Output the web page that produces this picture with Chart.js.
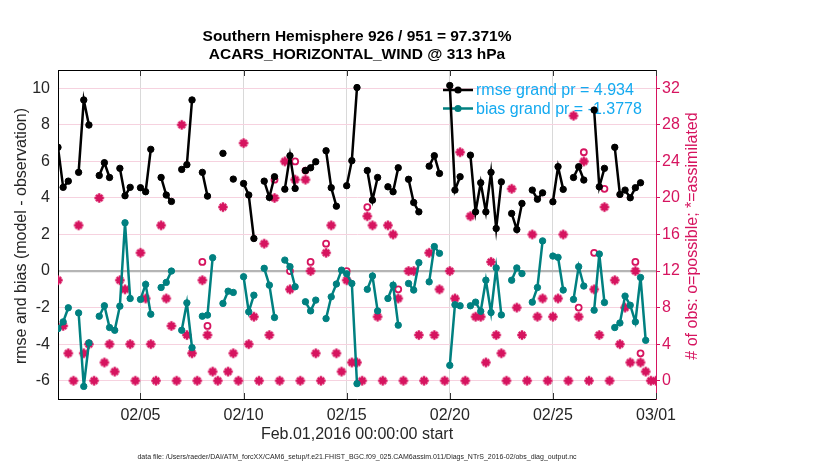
<!DOCTYPE html>
<html>
<head>
<meta charset="utf-8">
<script src="https://cdn.jsdelivr.net/npm/chart.js@4.4.1/dist/chart.umd.min.js"></script>
<style>
  html, body { margin: 0; padding: 0; background: #fff; }
  #wrap { width: 830px; height: 470px; }
</style>
</head>
<body>
<div id="wrap"><canvas id="obsChart" width="830" height="470"></canvas></div>
<script>
// x positions are days after Feb.01 00:00, one bin every 6 hours
const xTickDays = [4, 9, 14, 19, 24, 29];
const xTickLabels = ['02/05', '02/10', '02/15', '02/20', '02/25', '03/01'];
const leftTicks = [-6, -4, -2, 0, 2, 4, 6, 8, 10];
const rightTicks = [0, 4, 8, 12, 16, 20, 24, 28, 32];

const rmse = [
  6.77, 4.58, 4.92, null, 5.40, 9.36, 7.99, null, 5.23, 5.93,
  5.12, null, 5.62, 4.12, 4.58, null, 4.56, 4.34, 6.66, null,
  5.12, 4.16, 3.81, null, 5.56, 5.82, 9.36, null, 5.40, 4.10,
  null, null, 6.44, null, 5.03, null, 4.79, 4.16, 1.78, null,
  4.92, 4.03, 5.16, null, 4.48, 6.31, 4.52, null, 5.50, 5.65,
  5.98, null, 6.58, 4.56, 3.55, null, 4.67, 6.04, 10.04, null,
  5.50, 3.88, 5.12, null, 4.61, 4.34, 5.65, null, 5.02, 3.75,
  3.24, null, 5.74, 6.31, 5.34, null, 10.15, 4.43, 5.16, null,
  6.34, 3.24, 4.83, 3.24, 5.40, 2.33, 4.88, null, 3.15, 2.27,
  3.70, null, 4.43, 3.93, 4.28, null, 3.79, 5.71, 4.47, null,
  5.12, 5.71, 4.98, null, 8.81, 4.61, 5.62, null, 6.77, 4.19,
  4.43, 4.01, 4.56, 4.83, null, null, null
];
const bias = [
  -3.15, -2.78, -2.01, null, -2.29, -6.31, -3.93, null, -2.47, -1.90,
  -3.09, -3.24, -1.92, 2.64, -1.50, null, -1.55, -0.73, -2.36, null,
  -0.90, -0.62, 0.00, null, -3.24, -1.74, -4.19, null, -2.47, -2.41,
  0.73, null, -1.77, -1.10, -1.17, null, -0.31, -2.23, -1.32, null,
  0.15, -0.77, -2.54, null, 0.60, 0.24, -0.86, null, -1.68, -2.18,
  -1.59, null, -2.60, -1.41, -0.71, 0.05, -0.15, -0.68, -6.16, null,
  -1.00, -0.27, -2.18, null, -1.50, -0.77, -2.96, null, -0.68, -1.04,
  0.46, null, -0.59, 1.34, 0.97, null, -5.16, -1.84, -1.90, null,
  -1.90, -1.70, -2.20, -0.50, -2.27, 0.17, -2.40, null, -0.50, 0.17,
  -0.14, null, -1.70, -0.90, 1.65, null, 0.82, 0.75, -1.04, null,
  -1.55, 0.24, -0.82, null, -2.14, 0.93, -1.72, null, -3.09, -2.84,
  -1.37, -1.87, -2.78, -0.35, -3.79, null, null
];
const assimilated = [
  11, 6, 3, 0, 17, 3, 4, 0, 20, 2,
  4, 1, 11, 10, 4, 0, 14, 9, 4, 0,
  17, 9, 6, 0, 28, 5, 3, 0, 11, 5,
  1, 0, 19, 1, 3, 0, 26, 4, 7, 0,
  15, 5, 20, 0, 24, 10, 22, 0, 22, 12,
  3, 0, 14, 17, 3, 1, 11, 2, 2, 0,
  18, 17, 7, 0, 17, 16, 9, 0, 12, 12,
  5, 0, 14, 5, 10, 0, 12, 9, 25, 0,
  18, 7, 7, 2, 13, 5, 3, 0, 21, 8,
  5, 0, 16, 7, 9, 0, 7, 9, 16, 0,
  29, 7, 24, 0, 10, 5, 19, 0, 11, 4,
  8, 2, 12, 2, 1, 0, 0
];
const possible = [
  11, 6, 3, 0, 17, 3, 4, 0, 20, 2,
  4, 1, 11, 10, 4, 0, 14, 9, 4, 0,
  17, 9, 6, 0, 28, 5, 3, 0, 13, 6,
  1, 0, 19, 1, 3, 0, 26, 4, 7, 0,
  15, 5, 22, 0, 24, 12, 24, 0, 23, 13,
  3, 0, 15, 17, 3, 1, 12, 2, 2, 0,
  19, 17, 7, 0, 17, 16, 10, 0, 12, 12,
  5, 0, 14, 5, 10, 0, 12, 9, 25, 0,
  18, 7, 7, 2, 13, 5, 3, 0, 21, 8,
  5, 0, 16, 7, 9, 0, 7, 9, 16, 0,
  29, 8, 25, 0, 14, 5, 21, 0, 11, 4,
  8, 2, 13, 3, 1, 0, 0
];

const MAGENTA = '#d6145f';
const TEAL = '#008080';
const LEGEND_BLUE = '#14aaf0';
const TEXT = '#262626';
const FONT = '"Liberation Sans", Arial, Helvetica, sans-serif';

const days = rmse.map((_, i) => i * 0.25);
const toPoints = arr => arr.map((v, i) => ({ x: days[i], y: v }));
// a circle only shows where it is not hidden under the asterisk
const possibleOnly = possible.map((p, i) => (p !== assimilated[i] ? p : null));

// thick asterisk marker, it looks like a solid diamond with tips
function makeAsterisk() {
  const c = document.createElement('canvas');
  c.width = 12;
  c.height = 12;
  const g = c.getContext('2d');
  g.strokeStyle = MAGENTA;
  g.fillStyle = MAGENTA;
  g.lineWidth = 2.4;
  g.translate(6, 6);
  g.beginPath();
  g.moveTo(-4.7, 0); g.lineTo(4.7, 0);
  g.moveTo(0, -4.7); g.lineTo(0, 4.7);
  g.moveTo(-3.2, -3.2); g.lineTo(3.2, 3.2);
  g.moveTo(-3.2, 3.2); g.lineTo(3.2, -3.2);
  g.stroke();
  g.beginPath();
  g.moveTo(0, -4.2); g.lineTo(4.2, 0); g.lineTo(0, 4.2); g.lineTo(-4.2, 0);
  g.closePath();
  g.fill();
  return c;
}
const asterisk = makeAsterisk();

const decor = {
  id: 'decor',
  beforeDatasetsDraw(chart) {
    const { ctx } = chart;
    const rows = [
      { color: '#000', text: 'rmse grand pr = 4.934', y: 90 },
      { color: TEAL, text: 'bias grand pr = -1.3778', y: 108.5 }
    ];
    ctx.save();
    rows.forEach(r => {
      ctx.strokeStyle = r.color;
      ctx.lineWidth = 2.5;
      ctx.beginPath();
      ctx.moveTo(443, r.y);
      ctx.lineTo(473, r.y);
      ctx.stroke();
      ctx.fillStyle = r.color;
      ctx.beginPath();
      ctx.arc(458, r.y, 3.6, 0, Math.PI * 2);
      ctx.fill();
      ctx.fillStyle = LEGEND_BLUE;
      ctx.font = '16px ' + FONT;
      ctx.textAlign = 'left';
      ctx.textBaseline = 'middle';
      ctx.fillText(r.text, 476, r.y + 1);
    });
    ctx.restore();
  },
  afterDraw(chart) {
    const { ctx, chartArea: a, scales } = chart;
    ctx.save();
    // top of the frame
    ctx.strokeStyle = '#000';
    ctx.lineWidth = 1;
    ctx.beginPath();
    ctx.moveTo(a.left, a.top + 0.5);
    ctx.lineTo(a.right, a.top + 0.5);
    ctx.stroke();
    // inward ticks on bottom and top
    ctx.strokeStyle = '#333';
    xTickDays.forEach(d => {
      const px = Math.round(scales.x.getPixelForValue(d)) + 0.5;
      ctx.beginPath();
      ctx.moveTo(px, a.bottom);
      ctx.lineTo(px, a.bottom - 6);
      ctx.moveTo(px, a.top);
      ctx.lineTo(px, a.top + 6);
      ctx.stroke();
    });

    ctx.textAlign = 'center';
    ctx.textBaseline = 'middle';
    ctx.fillStyle = '#000';
    ctx.font = 'bold 15.5px ' + FONT;
    ctx.fillText('Southern Hemisphere 926 / 951 = 97.371%', 357, 37);
    ctx.fillText('ACARS_HORIZONTAL_WIND @ 313 hPa', 357, 55);

    ctx.fillStyle = TEXT;
    ctx.font = '16px ' + FONT;
    ctx.fillText('Feb.01,2016 00:00:00 start', 357, 435);
    ctx.font = '7px ' + FONT;
    ctx.fillText('data file: /Users/raeder/DAI/ATM_forcXX/CAM6_setup/f.e21.FHIST_BGC.f09_025.CAM6assim.011/Diags_NTrS_2016-02/obs_diag_output.nc', 357, 457);

    ctx.font = '16px ' + FONT;
    ctx.save();
    ctx.translate(22, 236);
    ctx.rotate(-Math.PI / 2);
    ctx.fillText('rmse and bias (model - observation)', 0, 0);
    ctx.restore();
    ctx.save();
    ctx.fillStyle = MAGENTA;
    ctx.translate(693, 236);
    ctx.rotate(-Math.PI / 2);
    ctx.fillText('# of obs: o=possible; *=assimilated', 0, 0);
    ctx.restore();
    ctx.restore();
  }
};

new Chart(document.getElementById('obsChart'), {
  type: 'line',
  data: {
    datasets: [
      {
        label: 'possible',
        data: toPoints(possibleOnly),
        yAxisID: 'y1',
        showLine: false,
        pointStyle: 'circle',
        pointRadius: 3,
        pointBorderWidth: 1.8,
        pointBorderColor: MAGENTA,
        pointBackgroundColor: '#fff',
        order: 4
      },
      {
        label: 'assimilated',
        data: toPoints(assimilated),
        yAxisID: 'y1',
        showLine: false,
        pointStyle: asterisk,
        pointRadius: 5,
        order: 3
      },
      {
        label: 'rmse',
        data: toPoints(rmse),
        yAxisID: 'y',
        borderColor: '#000',
        borderWidth: 2.5,
        pointRadius: 3.2,
        pointBorderWidth: 1,
        pointBackgroundColor: '#000',
        pointBorderColor: '#000',
        spanGaps: false,
        order: 2
      },
      {
        label: 'bias',
        data: toPoints(bias),
        yAxisID: 'y',
        borderColor: TEAL,
        borderWidth: 2.5,
        pointRadius: 3.2,
        pointBorderWidth: 1,
        pointBackgroundColor: TEAL,
        pointBorderColor: TEAL,
        spanGaps: false,
        order: 1
      }
    ]
  },
  options: {
    responsive: false,
    animation: false,
    layout: { padding: { top: 70, left: 0, right: 0, bottom: 0 } },
    plugins: {
      legend: { display: false },
      tooltip: { enabled: false },
      title: { display: false }
    },
    scales: {
      x: {
        type: 'linear',
        min: 0,
        max: 29,
        afterBuildTicks: s => { s.ticks = xTickDays.map(v => ({ value: v })); },
        afterFit: s => { s.height = 71; },
        grid: { color: '#d9d9d9', drawTicks: false },
        border: { color: '#000', width: 1 },
        ticks: {
          autoSkip: false,
          maxRotation: 0,
          padding: 7,
          color: TEXT,
          font: { size: 16, family: FONT },
          callback: v => xTickLabels[xTickDays.indexOf(v)]
        }
      },
      y: {
        position: 'left',
        min: -7,
        max: 11,
        afterBuildTicks: s => { s.ticks = leftTicks.map(v => ({ value: v })); },
        afterFit: s => { s.width = 58; },
        grid: {
          drawTicks: false,
          color: c => (c.tick && c.tick.value === 0 ? '#b5b5b5' : '#f6d2df'),
          lineWidth: c => (c.tick && c.tick.value === 0 ? 2.2 : 1)
        },
        border: { color: '#000', width: 1 },
        ticks: { padding: 8, color: TEXT, font: { size: 16, family: FONT } }
      },
      y1: {
        position: 'right',
        min: -2,
        max: 34,
        afterBuildTicks: s => { s.ticks = rightTicks.map(v => ({ value: v })); },
        afterFit: s => { s.width = 174; },
        grid: { drawOnChartArea: false, tickLength: 4, color: MAGENTA },
        border: { color: MAGENTA, width: 1 },
        ticks: { padding: 2, color: MAGENTA, font: { size: 16, family: FONT } }
      }
    }
  },
  plugins: [decor]
});
</script>
</body>
</html>
